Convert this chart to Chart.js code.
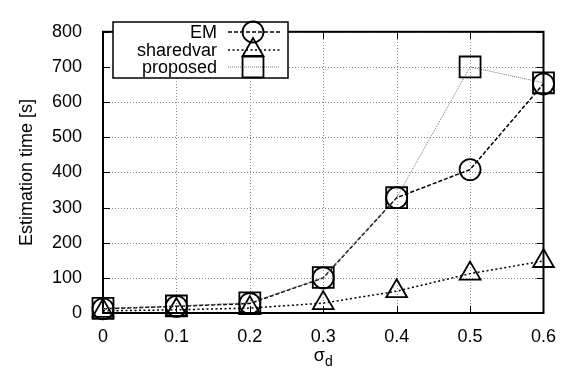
<!DOCTYPE html>
<html>
<head>
<meta charset="utf-8">
<script src="https://cdn.jsdelivr.net/npm/chart.js@4/dist/chart.umd.min.js"></script>
<style>
  html, body { margin: 0; padding: 0; background: #fff; }
  #wrap { width: 569px; height: 371px; }
</style>
</head>
<body>
<div id="wrap"><canvas id="c" width="569" height="371"></canvas></div>
<script>
// sigma_d values on the x axis
const sigmaD = [0, 0.1, 0.2, 0.3, 0.4, 0.5, 0.6];
const xTickLabels = ['0', '0.1', '0.2', '0.3', '0.4', '0.5', '0.6'];
const yTickLabels = ['0', '100', '200', '300', '400', '500', '600', '700', '800'];

// estimation time in seconds for each method
const emTime        = [12, 19, 27, 100, 328, 408, 652];
const sharedvarTime = [6, 9, 14, 28, 62, 112, 148];
const proposedTime  = [13, 20, 29, 101, 328, 700, 655];

const seriesNames = ['EM', 'sharedvar', 'proposed'];

const FONT = '"Liberation Sans", Arial, Helvetica, sans-serif';
const FS = 18;

function pts(values) {
  return sigmaD.map((x, i) => ({ x: x, y: values[i] }));
}

const styles = [
  { color: '#000', dash: [4, 2], width: 1.5, pointStyle: 'circle',   radius: 10.5 },
  { color: '#000', dash: [2, 2.5], width: 1.5, pointStyle: 'triangle', radius: 12 },
  { color: '#777', dash: [1, 1], width: 1,   pointStyle: 'rect',     radius: 14.8 }
];

const datasets = [emTime, sharedvarTime, proposedTime].map((vals, i) => ({
  label: seriesNames[i],
  data: pts(vals),
  borderColor: styles[i].color,
  borderDash: styles[i].dash,
  borderWidth: styles[i].width,
  pointStyle: styles[i].pointStyle,
  pointRadius: styles[i].radius,
  pointBorderColor: '#000',
  pointBorderWidth: 1.8,
  pointBackgroundColor: 'rgba(0,0,0,0)',
  fill: false,
  clip: false,
  tension: 0,
  order: 3 - i
}));

// dotted grid, frame, inward tick marks, legend box and subscripted x-axis title
const decorations = {
  id: 'decorations',
  beforeDatasetsDraw(chart) {
    const ctx = chart.ctx;
    const a = chart.chartArea;
    const xs = chart.scales.x, ys = chart.scales.y;
    const L = 7;
    ctx.save();

    // grid
    ctx.strokeStyle = '#888';
    ctx.lineWidth = 1;
    ctx.setLineDash([1, 2]);
    ctx.beginPath();
    xs.ticks.forEach(t => {
      const px = Math.round(xs.getPixelForValue(t.value)) + 0.5;
      ctx.moveTo(px, a.bottom); ctx.lineTo(px, a.top);
    });
    ys.ticks.forEach(t => {
      const py = Math.round(ys.getPixelForValue(t.value)) + 0.5;
      ctx.moveTo(a.left, py); ctx.lineTo(a.right, py);
    });
    ctx.stroke();

    // tick marks
    ctx.strokeStyle = '#000';
    ctx.setLineDash([]);
    ctx.beginPath();
    xs.ticks.forEach(t => {
      const px = Math.round(xs.getPixelForValue(t.value)) + 0.5;
      ctx.moveTo(px, a.bottom); ctx.lineTo(px, a.bottom - L);
      ctx.moveTo(px, a.top);    ctx.lineTo(px, a.top + L);
    });
    ys.ticks.forEach(t => {
      const py = Math.round(ys.getPixelForValue(t.value)) + 0.5;
      ctx.moveTo(a.left, py);  ctx.lineTo(a.left + L, py);
      ctx.moveTo(a.right, py); ctx.lineTo(a.right - L, py);
    });
    ctx.stroke();

    // frame
    ctx.lineWidth = 2;
    ctx.strokeRect(a.left, a.top, a.right - a.left, a.bottom - a.top);
    ctx.restore();
  },
  afterDraw(chart) {
    const ctx = chart.ctx;
    const a = chart.chartArea;
    ctx.save();

    // legend box
    ctx.strokeStyle = '#000';
    ctx.lineWidth = 1.5;
    ctx.setLineDash([]);
    ctx.fillStyle = '#fff';
    ctx.fillRect(113, 22, 175, 56);
    ctx.strokeRect(113, 22, 175, 56);

    const rows = [32, 50, 67];
    ctx.font = FS + 'px ' + FONT;
    ctx.textAlign = 'right';
    ctx.textBaseline = 'middle';
    seriesNames.forEach((name, i) => {
      const y = rows[i];
      const s = styles[i];
      ctx.fillStyle = '#000';
      ctx.fillText(name, 217, y + 1);
      ctx.beginPath();
      ctx.strokeStyle = s.color;
      ctx.lineWidth = s.width;
      ctx.setLineDash(s.dash);
      ctx.moveTo(228, y); ctx.lineTo(280, y);
      ctx.stroke();
      ctx.setLineDash([]);
      ctx.strokeStyle = '#000';
      ctx.lineWidth = 1.8;
      ctx.fillStyle = 'rgba(0,0,0,0)';
      Chart.helpers.drawPoint(ctx, {
        pointStyle: s.pointStyle, radius: s.radius, rotation: 0, borderWidth: 1.8
      }, 253, y);
    });

    // x-axis title: sigma with subscript d
    const cx = (a.left + a.right) / 2;
    ctx.fillStyle = '#000';
    ctx.textAlign = 'left';
    ctx.textBaseline = 'alphabetic';
    ctx.font = FS + 'px ' + FONT;
    const wS = ctx.measureText('σ').width;
    ctx.font = Math.round(FS * 0.8) + 'px ' + FONT;
    const wD = ctx.measureText('d').width;
    const x0 = cx - (wS + wD) / 2;
    ctx.font = FS + 'px ' + FONT;
    ctx.fillText('σ', x0, 361);
    ctx.font = Math.round(FS * 0.8) + 'px ' + FONT;
    ctx.fillText('d', x0 + wS, 366);
    ctx.restore();
  }
};

new Chart(document.getElementById('c'), {
  type: 'line',
  data: { datasets: datasets },
  options: {
    responsive: false,
    animation: false,
    devicePixelRatio: 1,
    layout: { padding: { top: 16, right: 23, left: 0, bottom: 0 } },
    plugins: {
      legend: { display: false },
      tooltip: { enabled: false }
    },
    scales: {
      x: {
        type: 'linear',
        min: 0, max: 0.6,
        afterFit(scale) { scale.height = 58; },
        grid: { display: false, drawTicks: false },
        border: { display: false },
        ticks: {
          stepSize: 0.1,
          padding: 13,
          color: '#000',
          font: { family: FONT, size: FS },
          maxRotation: 0,
          callback: (v, i) => xTickLabels[i]
        }
      },
      y: {
        type: 'linear',
        min: 0, max: 800,
        afterFit(scale) { scale.width = 103; },
        grid: { display: false, drawTicks: false },
        border: { display: false },
        title: {
          display: true,
          text: 'Estimation time [s]',
          color: '#000',
          font: { family: FONT, size: FS },
          padding: { top: 16, bottom: 0 }
        },
        ticks: {
          stepSize: 100,
          padding: 21,
          color: '#000',
          font: { family: FONT, size: FS },
          callback: (v, i) => yTickLabels[i]
        }
      }
    }
  },
  plugins: [decorations]
});
</script>
</body>
</html>
